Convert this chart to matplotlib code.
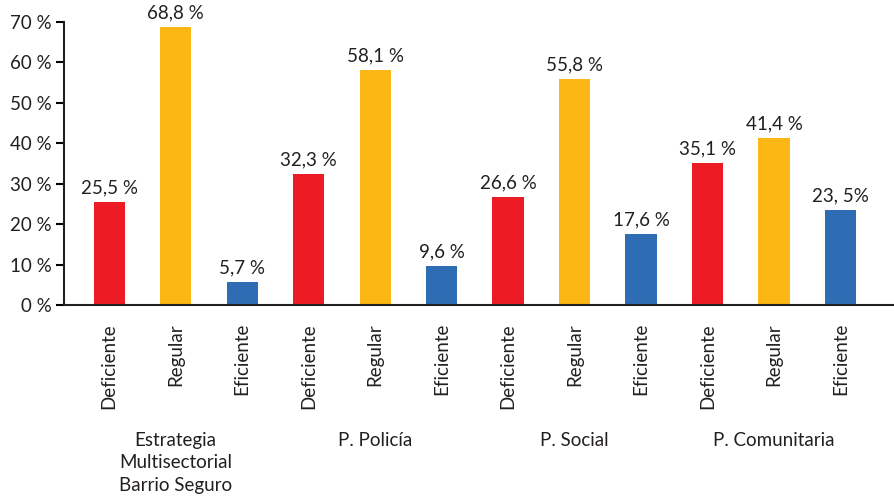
import matplotlib
matplotlib.use("Agg")
import matplotlib.pyplot as plt

groups = ["Estrategia\nMultisectorial\nBarrio Seguro", "P. Policía", "P. Social", "P. Comunitaria"]
levels = ["Deficiente", "Regular", "Eficiente"]
values = [25.5, 68.8, 5.7, 32.3, 58.1, 9.6, 26.6, 55.8, 17.6, 35.1, 41.4, 23.5]
value_labels = ["25,5 %", "68,8 %", "5,7 %", "32,3 %", "58,1 %", "9,6 %",
                "26,6 %", "55,8 %", "17,6 %", "35,1 %", "41,4 %", "23, 5%"]
yticks = [0, 10, 20, 30, 40, 50, 60, 70]
colors = ["#ED1C24", "#FDB714", "#2E6DB4"]

plt.rcParams['font.family'] = ['Lato', 'DejaVu Sans']
fs = 13.5
tc = "#231f20"

fig = plt.figure(figsize=(8.94, 5.01), dpi=100)
ax = fig.add_axes([64/894, 1 - 305/501, (893-64)/894, (305-22)/501])

x = list(range(len(values)))
bar_colors = [colors[i % 3] for i in x]
ax.bar(x, values, width=0.47, color=bar_colors)
for xi, v, lab in zip(x, values, value_labels):
    ax.text(xi, v + 1.4, lab, ha="center", va="bottom", fontsize=fs, color=tc)

ax.set_xlim(-0.68, 11.79)
ax.set_ylim(0, 70)
ax.set_yticks(yticks)
ax.set_yticklabels([f"{t} %" for t in yticks], fontsize=fs, color=tc)
ax.set_xticks(x)
ax.set_xticklabels([levels[i % 3] for i in x], rotation=90, fontsize=fs, color=tc, va="top")
ax.tick_params(axis="x", length=0, pad=13)
ax.tick_params(axis="y", length=6, width=1.5, direction="out", pad=3)
for s in ["top", "right"]:
    ax.spines[s].set_visible(False)
for s in ["left", "bottom"]:
    ax.spines[s].set_linewidth(1.5)
    ax.spines[s].set_color(tc)

for gi, g in enumerate(groups):
    ax.text(gi * 3 + 1, -31.3, g, ha="center", va="top", fontsize=fs,
            color=tc, linespacing=1.4)

fig.savefig("out.png", dpi=100)
